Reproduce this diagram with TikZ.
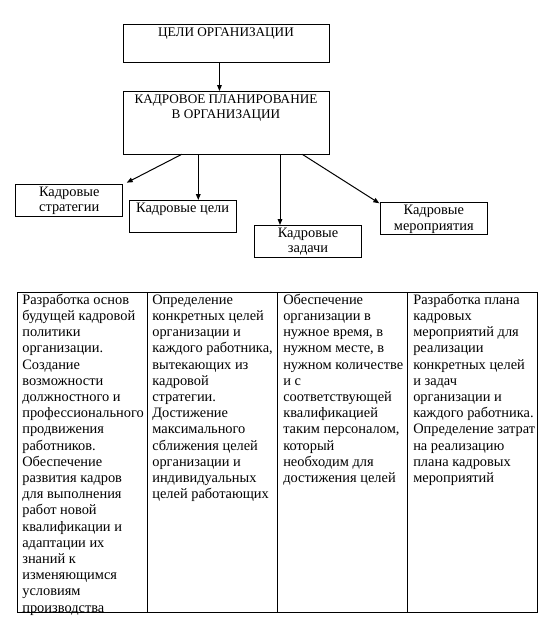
\documentclass[tikz,border=0pt]{standalone}
\usepackage{fontspec}
\setmainfont{Liberation Serif}
\usetikzlibrary{arrows.meta}
\begin{document}
\begin{tikzpicture}[x=0.75pt,y=-0.75pt,
  box/.style={draw,line width=0.75pt,inner sep=0,outer sep=0,anchor=north west},
  txt/.style={inner sep=0,anchor=north,align=center,font=\fontsize{10.8}{11.6}\selectfont},
  capstxt/.style={txt,font=\fontsize{9.9}{11.6}\selectfont},
  celltxt/.style={inner sep=0,anchor=north west,align=left,font=\fontsize{10.8}{12.15}\selectfont},
  arr/.style={line width=0.75pt,-{Triangle[length=4.5pt,width=3.5pt]}}]
\useasboundingbox (0,0) rectangle (541,618);
% boxes
\node[box,minimum width=206*0.75pt,minimum height=38*0.75pt] (goals) at (123,24.3) {};
\node[box,minimum width=206*0.75pt,minimum height=63.3*0.75pt] (plan) at (123,91) {};
\node[box,minimum width=107*0.75pt,minimum height=32*0.75pt] (strat) at (15.7,184) {};
\node[box,minimum width=107.3*0.75pt,minimum height=32.7*0.75pt] (cel) at (129,200) {};
\node[box,minimum width=107.4*0.75pt,minimum height=32.3*0.75pt] (task) at (254.3,225) {};
\node[box,minimum width=107.7*0.75pt,minimum height=32*0.75pt] (event) at (380,202.3) {};
% box texts
\node[capstxt] (tgoals) at (goals.north) {\rule{0pt}{9pt}ЦЕЛИ ОРГАНИЗАЦИИ};
\node[capstxt] (tplan) at (plan.north) {\rule{0pt}{9pt}КАДРОВОЕ ПЛАНИРОВАНИЕ\\В ОРГАНИЗАЦИИ};
\node[txt] (tstrat) at (strat.north) {\rule{0pt}{9pt}Кадровые\\стратегии};
\node[txt] (tcel) at (cel.north) {\rule{0pt}{9pt}Кадровые цели};
\node[txt] (ttask) at (task.north) {\rule{0pt}{9pt}Кадровые\\задачи};
\node[txt] (tevent) at (event.north) {\rule{0pt}{9pt}Кадровые\\мероприятия};
% arrows
\draw[arr] ([xshift=-4.9pt]goals.south) -- ([xshift=-4.9pt]plan.north);
\draw[arr] ([xshift=-33.2pt]plan.south) -- ([xshift=3pt,yshift=1pt]strat.north east);
\draw[arr] ([xshift=-20.8pt]plan.south) -- ([xshift=-20.8pt]plan.south |- cel.north);
\draw[arr] ([xshift=40.5pt]plan.south) -- ([xshift=40.5pt]plan.south |- task.north);
\draw[arr] ([xshift=57.2pt]plan.south) -- ([xshift=-0.5pt,yshift=-0.75pt]event.north west);
% table cells
\node[box,minimum width=130*0.75pt,minimum height=320*0.75pt] (c1) at (17,292.3) {};
\node[box,minimum width=130*0.75pt,minimum height=320*0.75pt] (c2) at (147,292.3) {};
\node[box,minimum width=130*0.75pt,minimum height=320*0.75pt] (c3) at (277,292.3) {};
\node[box,minimum width=130*0.75pt,minimum height=320*0.75pt] (c4) at (407,292.3) {};
\node[celltxt] (t1) at ([xshift=3.8pt]c1.north west) {\rule{0pt}{8.8pt}Разработка основ\\будущей кадровой\\политики\\организации.\\Создание\\возможности\\должностного и\\профессионального\\продвижения\\работников.\\Обеспечение\\развития кадров\\для выполнения\\работ новой\\квалификации и\\адаптации их\\знаний к\\изменяющимся\\условиям\\производства};
\node[celltxt] (t2) at ([xshift=3.8pt]c2.north west) {\rule{0pt}{8.8pt}Определение\\конкретных целей\\организации и\\каждого работника,\\вытекающих из\\кадровой\\стратегии.\\Достижение\\максимального\\сближения целей\\организации и\\индивидуальных\\целей работающих};
\node[celltxt] (t3) at ([xshift=4.5pt]c3.north west) {\rule{0pt}{8.8pt}Обеспечение\\организации в\\нужное время, в\\нужном месте, в\\нужном количестве\\и с\\соответствующей\\квалификацией\\таким персоналом,\\который\\необходим для\\достижения целей};
\node[celltxt] (t4) at ([xshift=4.5pt]c4.north west) {\rule{0pt}{8.8pt}Разработка плана\\кадровых\\мероприятий для\\реализации\\конкретных целей\\и задач\\организации и\\каждого работника.\\Определение затрат\\на реализацию\\плана кадровых\\мероприятий};
\end{tikzpicture}
\end{document}
